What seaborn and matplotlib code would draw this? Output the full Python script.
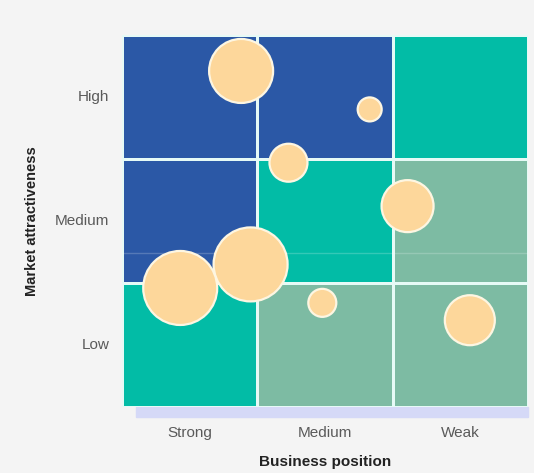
import numpy as np
import pandas as pd
import matplotlib.pyplot as plt
import seaborn as sns
from matplotlib.colors import ListedColormap
from matplotlib.patches import Rectangle

# Grid labels
positions = ['Strong', 'Medium', 'Weak']
attract = ['Low', 'Medium', 'High']   # bottom to top

# Zone of each cell (0 = invest, 1 = selective, 2 = harvest), rows Low -> High
zones = [[1, 2, 2],
         [0, 1, 2],
         [0, 0, 1]]

# Business units (x = position 0..3, y = attractiveness 0..3, r = bubble radius px)
unit_x = [0.88, 1.83, 1.23, 2.11, 0.95, 0.43, 1.48, 2.57]
unit_y = [2.71, 2.40, 1.97, 1.62, 1.15, 0.96, 0.84, 0.70]
unit_r = [32, 12, 19, 26, 37, 37, 14, 25]

dpi = 100
sns.set_theme(style='white')
plt.rcParams['font.family'] = ['Liberation Sans', 'DejaVu Sans']

fig = plt.figure(figsize=(5.34, 4.73), dpi=dpi, facecolor='#f4f4f4')
ax = fig.add_axes([0.2285, 0.1395, 0.7603, 0.7865])
ax.set_facecolor('#f4f4f4')

cmap = ListedColormap(['#2b58a6', '#02bca6', '#7dbba3'])
grid = pd.DataFrame(zones, index=attract, columns=positions)
sns.heatmap(grid, cmap=cmap, vmin=-0.5, vmax=2.5, cbar=False,
            linewidths=2, linecolor='#e6faf6', ax=ax)
ax.set_ylim(0, 3)
ax.set_xlim(0, 3)

# faint band line in middle row
ax.axhline(1.24, color='white', alpha=0.2, lw=1)

# drop shadow below the grid
ax.add_patch(Rectangle((0.1, -0.08), 2.9, 0.08, color='#d5d9f7',
                       clip_on=False, zorder=0.5))

# bubbles
units = pd.DataFrame({'x': unit_x, 'y': unit_y, 'r': unit_r})
units['area'] = (2 * units['r'] * 72 / dpi) ** 2
amin, amax = units['area'].min(), units['area'].max()
sns.scatterplot(data=units, x='x', y='y', size='area', sizes=(amin, amax),
                size_norm=(amin, amax), color='#fdd79b', edgecolor='#fdf6e2',
                linewidth=1.6, alpha=1, legend=False, ax=ax, zorder=3,
                clip_on=False)

ax.tick_params(axis='both', length=0, labelsize=11, labelcolor='#5a5a5a')
ax.tick_params(axis='x', pad=14)
ax.tick_params(axis='y', pad=9)
plt.setp(ax.get_yticklabels(), rotation=0)
ax.set_xlabel('Business position', fontsize=11, fontweight='bold', color='#222222')
ax.set_ylabel('Market attractiveness', fontsize=10.5, fontweight='bold', color='#222222')
ax.xaxis.set_label_coords(0.5, -0.13)
ax.yaxis.set_label_coords(-0.205, 0.5)
for s in ax.spines.values():
    s.set_visible(False)

fig.savefig('out.png', dpi=dpi, facecolor=fig.get_facecolor())
